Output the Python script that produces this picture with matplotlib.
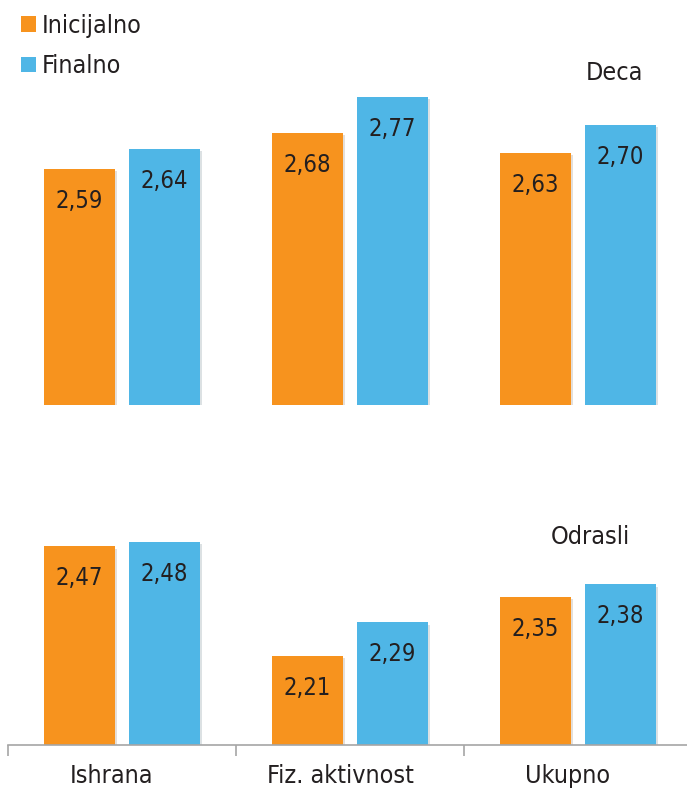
import matplotlib.pyplot as plt
import matplotlib.patheffects as pe
import matplotlib.transforms as mtransforms
import numpy as np

plt.rcParams['font.family'] = ['DejaVu Sans']
plt.rcParams['font.stretch'] = 'condensed'

# Data
categories = ['Ishrana', 'Fiz. aktivnost', 'Ukupno']
series_names = ['Inicijalno', 'Finalno']
deca_init = [2.59, 2.68, 2.63]
deca_final = [2.64, 2.77, 2.70]
odrasli_init = [2.47, 2.21, 2.35]
odrasli_final = [2.48, 2.29, 2.38]

orange = '#F7931E'
blue = '#4FB6E6'
text_col = '#231F20'
fs = 17

W, H = 687, 791
fig = plt.figure(figsize=(W / 100, H / 100), dpi=100)

# axes positions in pixels: left, baseline, width, height
ax_top = fig.add_axes([8 / W, (H - 405) / H, 684 / W, 400 / H])
ax_bot = fig.add_axes([8 / W, (H - 745) / H, 684 / W, 338 / H])

x = np.arange(len(categories))
width = 0.31
off = 0.187
shadow = [pe.SimplePatchShadow(offset=(1.5, -1.5), alpha=0.15), pe.Normal()]


def draw_panel(ax, init, final, ylim, title, title_xy):
	bars1 = ax.bar(x - off, np.array(init) - ylim[0], width, bottom=ylim[0],
				   color=orange, path_effects=shadow, zorder=2)
	bars2 = ax.bar(x + off, np.array(final) - ylim[0], width, bottom=ylim[0],
				   color=blue, path_effects=shadow, zorder=2)
	for bars, vals in ((bars1, init), (bars2, final)):
		for b, v in zip(bars, vals):
			ax.annotate(('%.2f' % v).replace('.', ','),
						(b.get_x() + b.get_width() / 2, v),
						xytext=(0, -23), textcoords='offset points',
						ha='center', va='center', fontsize=fs, color=text_col)
	ax.set_xlim(-0.5, 2.5)
	ax.set_ylim(*ylim)
	ax.set_yticks([])
	for s in ('top', 'right', 'left'):
		ax.spines[s].set_visible(False)
	fig.text(title_xy[0] / W, 1 - title_xy[1] / H, title, ha='center',
			 va='center', fontsize=fs + 1, color=text_col)
	return bars1, bars2


bars1, bars2 = draw_panel(ax_top, deca_init, deca_final, (2.0, 3.0), 'Deca', (614, 73))
draw_panel(ax_bot, odrasli_init, odrasli_final, (2.0, 2.8), 'Odrasli', (590, 537))

# top panel has no axis
ax_top.spines['bottom'].set_visible(False)
ax_top.set_xticks([])

# bottom panel category axis
ax_bot.spines['bottom'].set_color('#A6A6A6')
ax_bot.spines['bottom'].set_linewidth(1.2)
ax_bot.set_xticks(np.arange(-0.5, 3.0, 1.0), minor=True)
ax_bot.tick_params(axis='x', which='minor', length=8, color='#A6A6A6', width=1.2)
ax_bot.set_xticks(x)
ax_bot.set_xticklabels(categories, fontsize=fs + 1, color=text_col)
ax_bot.tick_params(axis='x', which='major', length=0, pad=14)
shift = mtransforms.ScaledTranslation(-10 / 100, 0, fig.dpi_scale_trans)
for lbl in ax_bot.get_xticklabels():
	lbl.set_transform(lbl.get_transform() + shift)

leg = fig.legend([bars1, bars2], series_names, loc='upper left',
				 bbox_to_anchor=(11 / W, 1 - 4 / H), frameon=False, fontsize=fs + 1,
				 handlelength=0.6, handleheight=0.6, handletextpad=0.25,
				 labelspacing=0.65, labelcolor=text_col, borderaxespad=0)
for h in leg.legend_handles:
	h.set_path_effects([])

fig.savefig('out.png', dpi=100)
